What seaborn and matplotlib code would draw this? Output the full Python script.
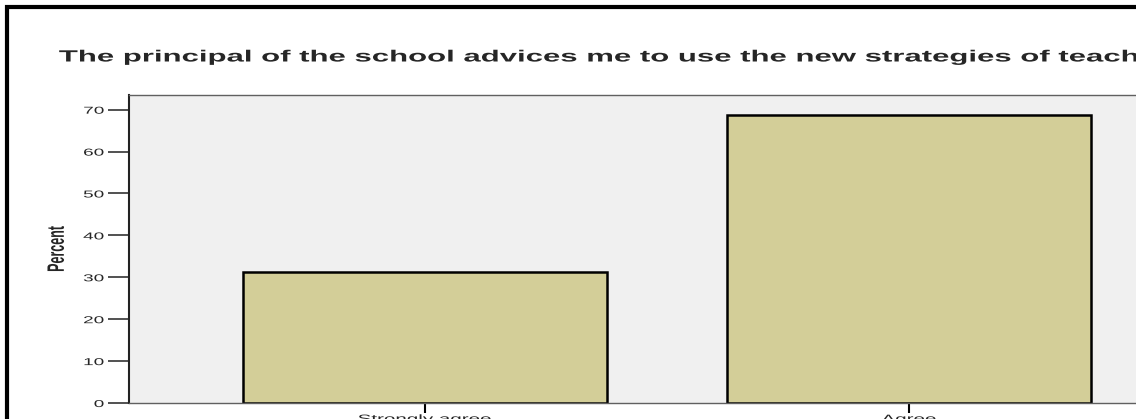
import matplotlib
matplotlib.use("Agg")
import matplotlib.pyplot as plt
import seaborn as sns
import pandas as pd
from matplotlib.patches import Rectangle
from matplotlib.patheffects import AbstractPathEffect
from matplotlib.transforms import Affine2D

# --- data ---
categories = ["Strongly agree", "Agree"]
percent = [31.25, 68.75]
title = "The principal of the school advices me to use the new strategies of teaching"

df = pd.DataFrame({"answer": categories, "percent": percent})


# the reference image is stretched sideways, so stretch the drawn text the same way
class Stretch(AbstractPathEffect):
    def __init__(self, sx, anchor="center"):
        super().__init__()
        self.sx = sx
        self.anchor = anchor

    def draw_path(self, renderer, gc, tpath, affine, rgbFace=None):
        ext = tpath.get_extents(affine)
        x0 = {"left": ext.x0, "right": ext.x1}.get(self.anchor, (ext.x0 + ext.x1) / 2)
        t = affine + Affine2D().translate(-x0, 0).scale(self.sx, 1).translate(x0, 0)
        renderer.draw_path(gc, tpath, t, rgbFace)


SX = 1.9

sns.set_theme(style="white")
plt.rcParams["font.family"] = ["Liberation Sans", "DejaVu Sans"]

fig = plt.figure(figsize=(11.36, 4.19), dpi=100)
# axes runs past the right edge, as in the cropped reference
ax = fig.add_axes([129 / 1136, 16 / 419, 1076 / 1136, 308 / 419])
ax.set_facecolor("#f0f0f0")

sns.barplot(data=df, x="answer", y="percent", color="#d3ce98",
            edgecolor="black", linewidth=1.8, width=0.754, saturation=1, ax=ax)

ax.set_ylim(0, 73.5)
ax.set_xlim(-0.612, 1.612)
ax.set_yticks(range(0, 71, 10))
ax.tick_params(axis="y", length=15, width=1.2, color="#333333", labelsize=7.2, pad=3, left=True)
ax.tick_params(axis="x", length=7, width=1.5, color="black", labelsize=7.8, pad=1, bottom=True)
ax.set_xlabel("")
ax.set_ylabel("Percent", fontsize=9, fontweight="bold", va="center")
ax.yaxis.set_label_coords((57 - 129) / 1076, 0.5)
ax.yaxis.label.set_path_effects([Stretch(SX, "center")])

for lab in ax.get_yticklabels():
    lab.set_path_effects([Stretch(SX, "right")])
for lab in ax.get_xticklabels():
    lab.set_path_effects([Stretch(SX, "center")])

for side in ["top", "bottom", "right"]:
    ax.spines[side].set_color("#606060")
    ax.spines[side].set_linewidth(1)
ax.spines["left"].set_color("#222222")
ax.spines["left"].set_linewidth(1.5)

t = fig.text(59 / 1136, 1 - 57 / 419, title, fontsize=11.7, fontweight="bold",
             ha="left", va="center")
t.set_path_effects([Stretch(1.915, "left")])

# outer chart frame
fig.patches.append(Rectangle((7 / 1136, -0.1), 1.2, (419 - 7) / 419 + 0.1,
                             transform=fig.transFigure, fill=False,
                             edgecolor="black", linewidth=3))

plt.savefig("out.png", dpi=100)
